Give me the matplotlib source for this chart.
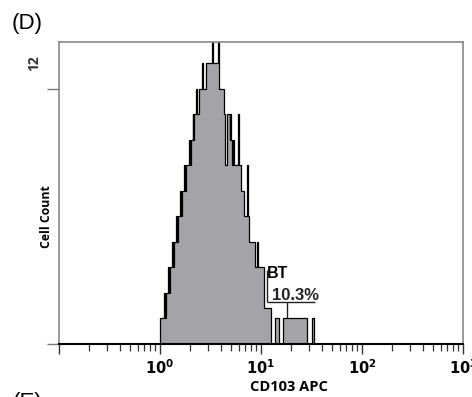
import numpy as np
import matplotlib
matplotlib.use("Agg")
import matplotlib.pyplot as plt
from matplotlib.ticker import FixedLocator, FixedFormatter, NullFormatter

# histogram: left edges of bins (log10 of CD103 APC) and cell counts
bin_left = [0.000, 0.040, 0.052, 0.060, 0.082, 0.092, 0.100, 0.122, 0.130, 0.140,
            0.162, 0.170, 0.180, 0.202, 0.210, 0.220, 0.242, 0.250, 0.260, 0.287,
            0.295, 0.310, 0.322, 0.330, 0.340, 0.360, 0.368, 0.385, 0.420, 0.428,
            0.455, 0.512, 0.522, 0.570, 0.580, 0.585, 0.634, 0.648, 0.660, 0.690,
            0.697, 0.707, 0.715, 0.725, 0.733, 0.775, 0.787, 0.802, 0.832, 0.862,
            0.872, 0.881, 0.940, 0.958, 0.968, 1.030, 1.100, 1.135, 1.175, 1.215,
            1.460, 1.500]
bin_last_edge = 1.520
counts = [1, 2, 1, 2, 3, 2, 3, 4, 3, 4,
          5, 4, 5, 6, 5, 6, 7, 6, 7, 8,
          7, 8, 9, 8, 9, 10, 9, 10, 11, 10,
          11, 14, 11, 14, 11, 10, 9, 7, 9, 8,
          9, 8, 7, 8, 7, 9, 7, 6, 5, 7,
          5, 4, 3, 4, 3, 1.4, 0, 1, 0, 1,
          0, 1]

# "BT" gate marker
gate_start, gate_end, gate_level = 1.06, 1.535, 1.65
gate_tick = 1.26
gate_text = ["BT", "10.3%"]

x_ticks = [0.1, 1, 10, 100, 1000]
x_tick_labels = ["", r"$\mathbf{10^{0}}$", r"$\mathbf{10^{1}}$", r"$\mathbf{10^{2}}$", r"$\mathbf{10^{3}}$"]

fig = plt.figure(figsize=(4.72, 3.97), dpi=100)
ax = fig.add_axes([59 / 472, 1 - 344 / 397, (463 - 59) / 472, (344 - 42) / 397])

edges = 10 ** np.array(bin_left + [bin_last_edge])
ax.stairs(counts, edges, fill=True, color="#a4a4a8", baseline=0)
ax.stairs(counts, edges, color="black", linewidth=0.9, baseline=0)

# gate bar
ax.hlines(gate_level, 10 ** gate_start, 10 ** gate_end, color="#222222", linewidth=1.0)
ax.vlines(10 ** gate_tick, 1.0, gate_level, color="#222222", linewidth=1.0)
ax.vlines(10 ** gate_start, gate_level, 2.9, color="#222222", linewidth=1.0)

ax.set_xscale("log")
ax.set_xlim(0.1, 1000)
ax.set_ylim(0, 11.84)

ax.xaxis.set_major_locator(FixedLocator(x_ticks))
ax.xaxis.set_major_formatter(FixedFormatter(x_tick_labels))
minor = [m * d for d in [0.1, 1, 10, 100] for m in range(2, 10)]
ax.xaxis.set_minor_locator(FixedLocator(minor))
ax.xaxis.set_minor_formatter(NullFormatter())
ax.tick_params(axis="x", which="major", direction="out", length=7, width=1.0,
               color="#333333", labelsize=10.5, pad=3)
ax.tick_params(axis="x", which="minor", direction="out", length=5, width=0.9, color="#333333")

ax.set_yticks([0, 10])
ax.set_yticklabels(["", ""])
ax.tick_params(axis="y", direction="out", length=9, width=1.0, color="#777777")

for side in ["left", "top", "right"]:
    ax.spines[side].set_color("#888888")
    ax.spines[side].set_linewidth(1.2)
ax.spines["bottom"].set_color("black")
ax.spines["bottom"].set_linewidth(1.5)

fig.text(12 / 472, 1 - 24 / 397, "(D)", fontsize=16, family="Liberation Sans",
         ha="left", va="center")
fig.text(13 / 472, 1 - 392 / 397, "(E)", fontsize=16, family="Liberation Sans",
         ha="left", va="top")
fig.text(34 / 472, 1 - 63 / 397, "12", fontsize=10, fontweight="bold", rotation=90,
         family="Open Sans", ha="center", va="center", color="#333333")
fig.text(47 / 472, 1 - 217 / 397, "Cell Count", fontsize=8.8, fontweight="bold", rotation=90,
         family="Open Sans", ha="center", va="center")
fig.text(289 / 472, 1 - 387 / 397, "CD103 APC", fontsize=10.5, fontweight="bold",
         family="Open Sans", ha="center", va="center")
fig.text(267 / 472, 1 - 273 / 397, gate_text[0], fontsize=11.5, fontweight="bold",
         family="Liberation Sans", ha="left", va="center")
fig.text(272 / 472, 1 - 296 / 397, gate_text[1], fontsize=12, fontweight="bold",
         family="Liberation Sans", ha="left", va="center", color="#222222")

fig.savefig("out.png", dpi=100)
